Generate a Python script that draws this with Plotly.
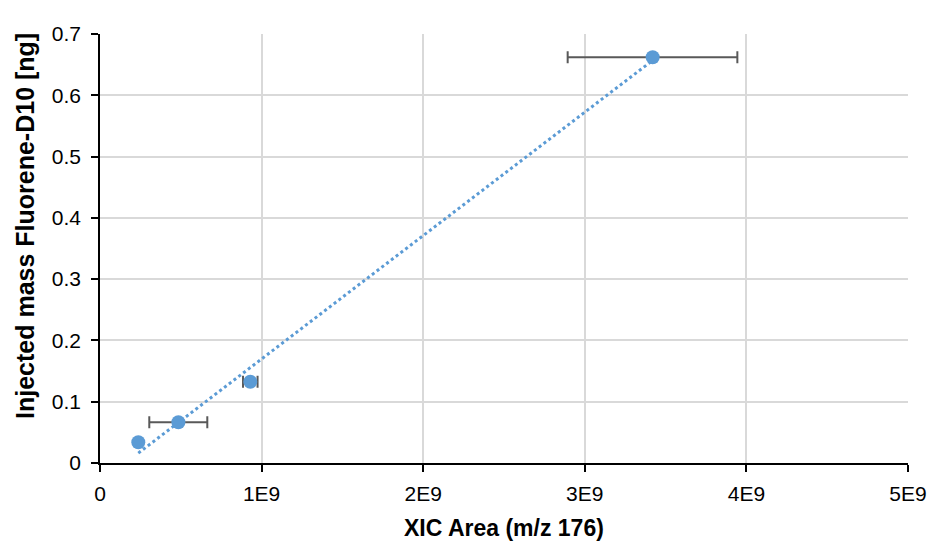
import numpy as np
import plotly.graph_objects as go

# Data
xic_area = [0.237e9, 0.485e9, 0.930e9, 3.42e9]
injected_mass = [0.0338, 0.0664, 0.1326, 0.662]
xic_err_plus = [0.0, 0.179e9, 0.045e9, 0.524e9]
xic_err_minus = [0.0, 0.180e9, 0.045e9, 0.526e9]

x_tick_vals = [0, 1e9, 2e9, 3e9, 4e9, 5e9]
x_tick_text = ["0", "1E9", "2E9", "3E9", "4E9", "5E9"]

# Linear trendline (least squares fit of the data)
slope, intercept = np.polyfit(xic_area, injected_mass, 1)
trend_x = [min(xic_area), max(xic_area)]
trend_y = [slope * v + intercept for v in trend_x]

blue = "#5B9BD5"
fig = go.Figure()
fig.add_trace(go.Scatter(
    x=trend_x, y=trend_y, mode="lines",
    line=dict(color=blue, width=3, dash="dot"),
    hoverinfo="skip", showlegend=False,
))
fig.add_trace(go.Scatter(
    x=xic_area, y=injected_mass, mode="markers",
    marker=dict(color=blue, size=14),
    error_x=dict(type="data", symmetric=False, array=xic_err_plus,
                 arrayminus=xic_err_minus, color="#595959",
                 thickness=2, width=6),
    showlegend=False,
))

font = "Liberation Sans, Arial, sans-serif"
fig.update_layout(
    width=932, height=546,
    margin=dict(l=100, r=24, t=34, b=83),
    paper_bgcolor="white", plot_bgcolor="white",
    font=dict(family=font, size=21, color="black"),
    xaxis=dict(
        range=[0, 5e9], tickvals=x_tick_vals, ticktext=x_tick_text,
        showgrid=True, gridcolor="#D9D9D9", gridwidth=1.5,
        showline=True, linecolor="black", linewidth=1.5,
        ticks="outside", ticklen=7, tickcolor="black", tickwidth=1.5,
        ticklabelstandoff=4, automargin=False,
        zeroline=False,
    ),
    yaxis=dict(
        range=[0, 0.7], dtick=0.1, tick0=0,
        showgrid=True, gridcolor="#D9D9D9", gridwidth=1.5,
        showline=True, linecolor="black", linewidth=1.5,
        ticks="outside", ticklen=7, tickcolor="black", tickwidth=1.5,
        ticklabelstandoff=6, automargin=False,
        zeroline=False,
    ),
    annotations=[
        dict(
            text="<b>Injected mass Fluorene-D10 [ng]</b>",
            textangle=-90, xref="paper", yref="paper",
            x=(25 - 100) / 808, y=(463 - 226) / 429,
            xanchor="center", yanchor="middle", showarrow=False,
            font=dict(size=25, family=font, color="black"),
        ),
        dict(
            text="<b>XIC Area (m/z 176)</b>",
            xref="paper", yref="paper",
            x=(504 - 100) / 808, y=(463 - 528) / 429,
            xanchor="center", yanchor="middle", showarrow=False,
            font=dict(size=23, family=font, color="black"),
        ),
    ],
)
fig.write_html("out.html")
